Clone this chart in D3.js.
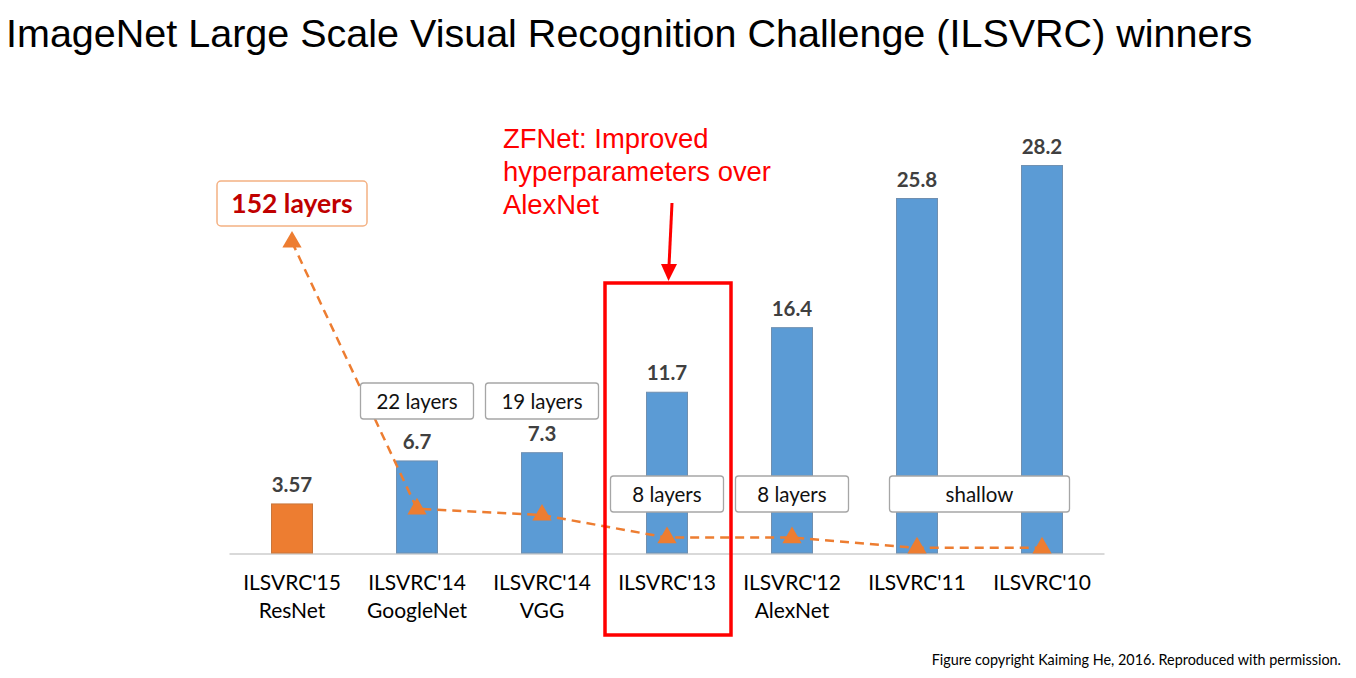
<!DOCTYPE html>
<html>
<head>
<meta charset="utf-8">
<script src="https://cdn.jsdelivr.net/npm/d3@7"></script>
<style>
  html, body { margin: 0; padding: 0; background: #fff; }
  svg { display: block; }
</style>
</head>
<body>
<svg id="chart" width="1356" height="678"></svg>
<script>
// ---- data ----
const categories = ["ILSVRC'15", "ILSVRC'14", "ILSVRC'14", "ILSVRC'13", "ILSVRC'12", "ILSVRC'11", "ILSVRC'10"];
const models = ["ResNet", "GoogleNet", "VGG", "", "AlexNet", "", ""];
const errorRates = [3.57, 6.7, 7.3, 11.7, 16.4, 25.8, 28.2];
const errorLabels = ["3.57", "6.7", "7.3", "11.7", "16.4", "25.8", "28.2"];
const layerCounts = [152, 22, 19, 8, 8, 3, 3];
const layerBoxTexts = ["22 layers", "19 layers", "8 layers", "8 layers", "shallow"];
const layerBoxFrom = [1, 2, 3, 4, 5];
const layerBoxTo = [1, 2, 3, 4, 6];
const title = "ImageNet Large Scale Visual Recognition Challenge (ILSVRC) winners";
const annotation = ["ZFNet: Improved", "hyperparameters over", "AlexNet"];
const footer = "Figure copyright Kaiming He, 2016. Reproduced with permission.";

// ---- layout ----
const svg = d3.select("#chart");
const baseY = 553;
const keys = d3.range(categories.length);
const x = d3.scaleBand().domain(keys).range([229.5, 1104.5]).paddingInner(0.672).paddingOuter(0.336);
const cx = i => x(i) + x.bandwidth() / 2;
const y = d3.scaleLinear().domain([0, 30]).range([baseY, baseY - 30 * 13.74]);
const yL = d3.scaleLinear().domain([0, 152]).range([554, 242]);

const sansC = "Lato, 'Open Sans', sans-serif";
const sansA = "'Liberation Sans', Arial, sans-serif";

// title
svg.append("text").attr("x", 6).attr("y", 47)
  .attr("font-family", sansA).attr("font-size", 39.5).attr("fill", "#000")
  .text(title);

// axis baseline
svg.append("line").attr("x1", 229.5).attr("x2", 1104.5).attr("y1", baseY + 1).attr("y2", baseY + 1)
  .attr("stroke", "#d9d9d9").attr("stroke-width", 2);

// bars
svg.append("g").selectAll("rect").data(errorRates).join("rect")
  .attr("x", (d, i) => x(i)).attr("width", x.bandwidth())
  .attr("y", d => y(d)).attr("height", d => baseY - y(d))
  .attr("fill", (d, i) => i === 0 ? "#ed7d31" : "#5b9bd5")
  .attr("stroke", (d, i) => i === 0 ? "#c8763c" : "#6f8fb0").attr("stroke-width", 1);

// value labels
svg.append("g").selectAll("text").data(errorRates).join("text")
  .attr("x", (d, i) => cx(i)).attr("y", d => y(d) - 12)
  .attr("text-anchor", "middle")
  .attr("font-family", sansC).attr("font-weight", 700).attr("font-size", 20.5)
  .attr("fill", "#404040")
  .text((d, i) => errorLabels[i]);

// layers line
const line = d3.line().x((d, i) => cx(i)).y(d => yL(d));
svg.append("path").datum(layerCounts).attr("d", line)
  .attr("fill", "none").attr("stroke", "#ed7d31").attr("stroke-width", 2.5)
  .attr("stroke-dasharray", "9,6");
svg.append("g").selectAll("path").data(layerCounts).join("path")
  .attr("d", d3.symbol(d3.symbolTriangle, 160))
  .attr("transform", (d, i) => `translate(${cx(i)},${yL(d)})`)
  .attr("fill", "#ed7d31");

// layer boxes
const boxRowY = [401, 401, 494, 494, 494];
const boxG = svg.append("g");
layerBoxTexts.forEach((t, k) => {
  const a = layerBoxFrom[k], b = layerBoxTo[k];
  const mid = (cx(a) + cx(b)) / 2;
  const w = a === b ? 113 : 180;
  boxG.append("rect").attr("x", mid - w / 2).attr("y", boxRowY[k] - 18)
    .attr("width", w).attr("height", 36).attr("rx", 3)
    .attr("fill", "#fff").attr("stroke", "#a6a6a6").attr("stroke-width", 1.3);
  boxG.append("text").attr("x", mid).attr("y", boxRowY[k] + 7.5)
    .attr("text-anchor", "middle").attr("font-family", sansC).attr("font-size", 20.5)
    .attr("fill", "#111").text(t);
});

// 152 layers box
svg.append("rect").attr("x", cx(0) - 75).attr("y", 181).attr("width", 150).attr("height", 45)
  .attr("rx", 4).attr("fill", "#fff").attr("stroke", "#f4b183").attr("stroke-width", 1.5);
svg.append("text").attr("x", cx(0)).attr("y", 213).attr("text-anchor", "middle")
  .attr("font-family", sansC).attr("font-weight", 700).attr("font-size", 26.5)
  .attr("fill", "#c00000").text(layerCounts[0] + " layers");

// category labels
const catG = svg.append("g");
categories.forEach((c, i) => {
  catG.append("text").attr("x", cx(i)).attr("y", 590).attr("text-anchor", "middle")
    .attr("font-family", sansC).attr("font-size", 21).attr("fill", "#000").text(c);
  if (models[i]) catG.append("text").attr("x", cx(i)).attr("y", 618).attr("text-anchor", "middle")
    .attr("font-family", sansC).attr("font-size", 21).attr("fill", "#000").text(models[i]);
});

// red annotation
const red = "#ff0000";
annotation.forEach((t, k) => {
  svg.append("text").attr("x", 503).attr("y", 148 + k * 33)
    .attr("font-family", sansA).attr("font-size", 27.4).attr("fill", red).text(t);
});
svg.append("line").attr("x1", 672).attr("y1", 203).attr("x2", 669).attr("y2", 266)
  .attr("stroke", red).attr("stroke-width", 3);
svg.append("path").attr("d", "M661,264 L677,264 L668.5,281 Z").attr("fill", red);
svg.append("rect").attr("x", cx(3) - 62).attr("y", 283).attr("width", 126).attr("height", 352)
  .attr("fill", "none").attr("stroke", red).attr("stroke-width", 3.5);

// footer
svg.append("text").attr("x", 1341).attr("y", 665).attr("text-anchor", "end")
  .attr("font-family", sansC).attr("font-size", 14.4).attr("fill", "#000").text(footer);
</script>
</body>
</html>
